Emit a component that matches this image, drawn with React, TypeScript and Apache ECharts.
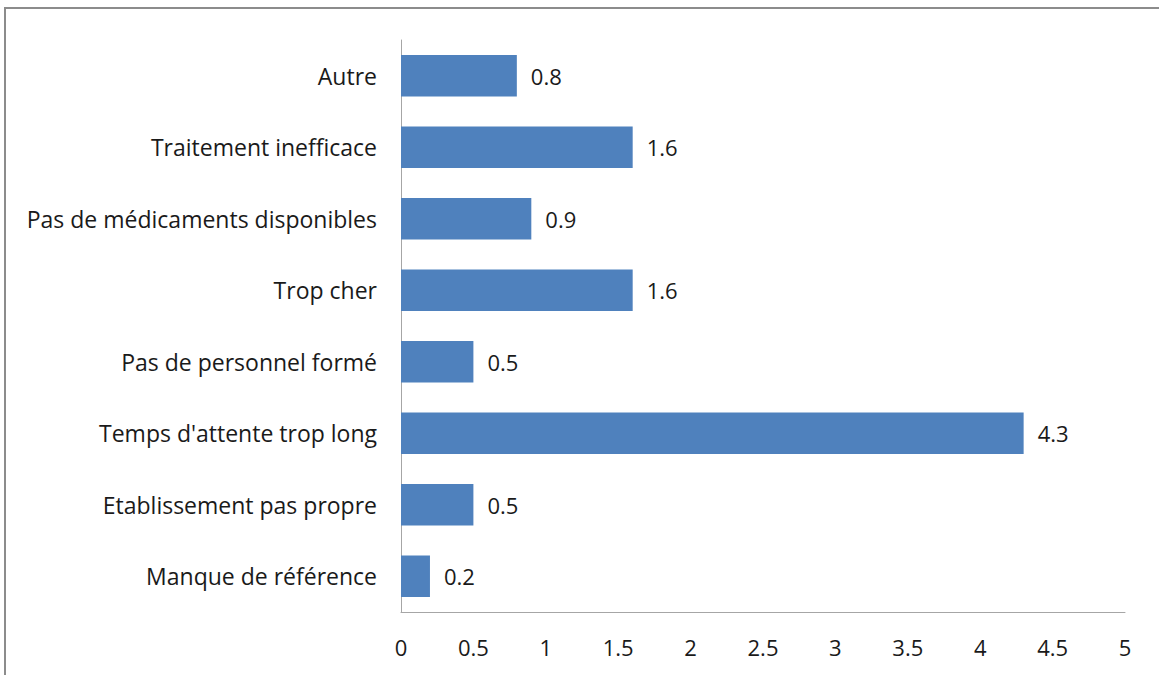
import React, { useEffect, useRef } from "react";
import * as echarts from "echarts";

const categories = [
  "Manque de référence",
  "Etablissement pas propre",
  "Temps d'attente trop long",
  "Pas de personnel formé",
  "Trop cher",
  "Pas de médicaments disponibles",
  "Traitement inefficace",
  "Autre",
];
const values = [0.2, 0.5, 4.3, 0.5, 1.6, 0.9, 1.6, 0.8];

const FONT = "'Open Sans', sans-serif";

export default function App() {
  const ref = useRef<HTMLDivElement>(null);
  useEffect(() => {
    if (!ref.current) return;
    const chart = echarts.init(ref.current, undefined, { renderer: "svg" });
    chart.setOption({
      animation: false,
      backgroundColor: "#ffffff",
      graphic: [
        {
          type: "rect",
          shape: { x: 5, y: 8, width: 1170, height: 700 },
          style: { fill: "none", stroke: "#8c8c8c", lineWidth: 2 },
          silent: true,
        },
      ],
      grid: { left: 401, right: 34, top: 40, bottom: 63, containLabel: false },
      xAxis: {
        type: "value",
        min: 0,
        max: 5,
        interval: 0.5,
        axisLine: { show: true, lineStyle: { color: "#a6a6a6", width: 1 } },
        axisTick: { show: false },
        splitLine: { show: false },
        axisLabel: {
          color: "#1a1a1a",
          fontFamily: FONT,
          fontSize: 22,
          margin: 24,
          formatter: (v: number) => String(v),
        },
      },
      yAxis: {
        type: "category",
        data: categories,
        axisLine: { show: true, lineStyle: { color: "#a6a6a6", width: 1 } },
        axisTick: { show: false },
        axisLabel: {
          color: "#1a1a1a",
          fontFamily: FONT,
          fontSize: 23,
          margin: 24,
        },
      },
      series: [
        {
          type: "bar",
          data: values,
          barWidth: "58%",
          itemStyle: { color: "#4f81bd" },
          label: {
            show: true,
            position: "right",
            distance: 14,
            color: "#1a1a1a",
            fontFamily: FONT,
            fontSize: 22,
          },
        },
      ],
    });
    return () => chart.dispose();
  }, []);
  return (
    <div
      ref={ref}
      style={{ position: "fixed", left: 0, top: 0, width: 1159, height: 675 }}
    />
  );
}
